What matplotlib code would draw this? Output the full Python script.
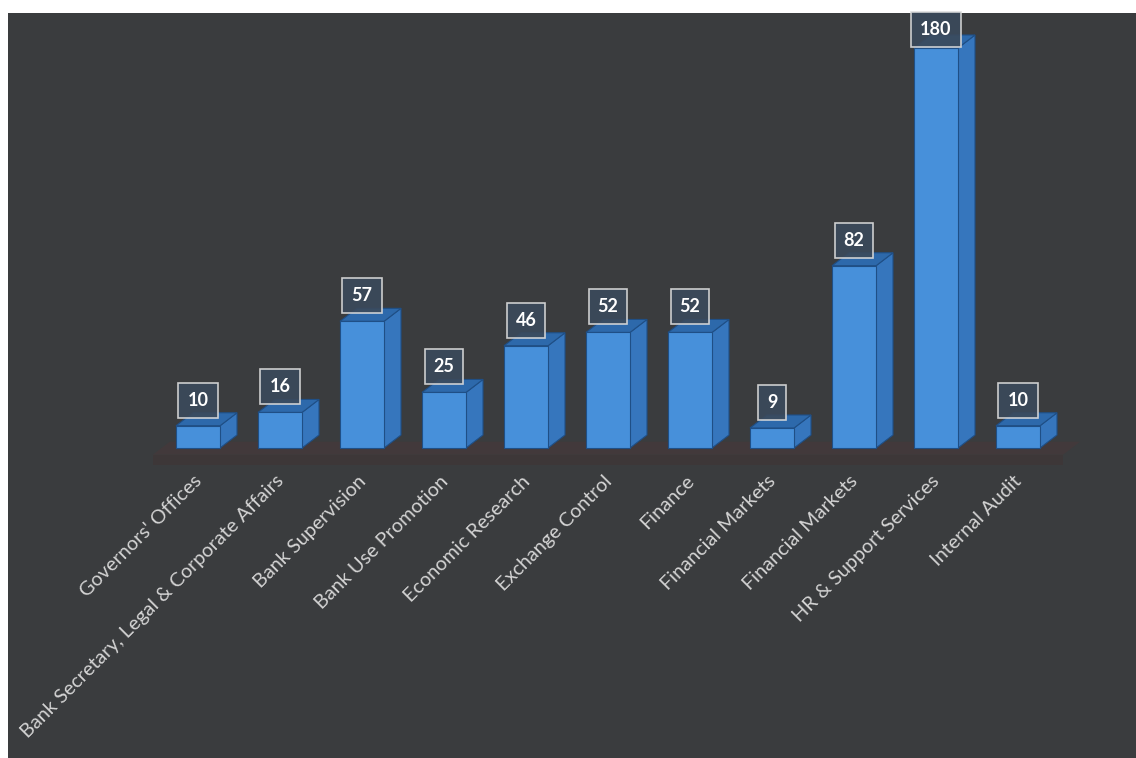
import matplotlib
matplotlib.use("Agg")
import matplotlib.pyplot as plt
from matplotlib.patches import Polygon

# Staff headcount by department
departments = [
    "Governors' Offices",
    "Bank Secretary, Legal & Corporate Affairs",
    "Bank Supervision",
    "Bank Use Promotion",
    "Economic Research",
    "Exchange Control",
    "Finance",
    "Financial Markets",
    "Financial Markets",
    "HR & Support Services",
    "Internal Audit",
]
headcount = [10, 16, 57, 25, 46, 52, 52, 9, 82, 180, 10]

W_PX, H_PX = 1136, 758
BG = "#3a3c3e"
FRONT = "#4790da"
SIDE = "#3676bd"
TOP = "#2d69ab"
EDGE = "#1f4f86"

fig = plt.figure(figsize=(W_PX / 100, H_PX / 100), dpi=100, facecolor="white")

# dark panel, inset from the left and top edges
pl, pt = 8, 13
ax = fig.add_axes([pl / W_PX, 0, (W_PX - pl) / W_PX, (H_PX - pt) / H_PX])
ax.set_facecolor(BG)

# pixel geometry of the plot: category spacing and value scale
x0_px, step_px = 198, 82
base_px, px_per_unit = 448, 400 / 180
ax.set_xlim((pl - x0_px) / step_px, (W_PX - x0_px) / step_px)
ax.set_ylim(-(H_PX - base_px) / px_per_unit, (base_px - pt) / px_per_unit)
for s in ax.spines.values():
    s.set_visible(False)
ax.set_xticks([])
ax.set_yticks([])

n = len(headcount)
xs = list(range(n))
bw = 44 / step_px            # front face width
dx = 17 / step_px            # depth offset (x)
dy = 13 / px_per_unit        # depth offset (y)

# floor slab under the bars
fl, fr = -0.55, n - 1 + 0.55
floor_top = Polygon(
    [(fl, -3.0), (fr, -3.0), (fr + dx, dy - 3.0), (fl + dx, dy - 3.0)],
    closed=True, facecolor="#45393a", edgecolor="none", alpha=0.75, zorder=1)
ax.add_patch(floor_top)
floor_front = Polygon(
    [(fl, -3.0), (fr, -3.0), (fr, -7.5), (fl, -7.5)],
    closed=True, facecolor="#3f3536", edgecolor="none", alpha=0.7, zorder=1)
ax.add_patch(floor_front)

# bars: front faces through bar(), side and top faces from the same values
ax.bar(xs, headcount, width=bw, color=FRONT, edgecolor=EDGE, linewidth=0.8, zorder=4)
for x, v in zip(xs, headcount):
    r = x + bw / 2
    l = x - bw / 2
    side = Polygon([(r, 0), (r + dx, dy), (r + dx, v + dy), (r, v)],
                   closed=True, facecolor=SIDE, edgecolor=EDGE, linewidth=0.8, zorder=3)
    top = Polygon([(l, v), (r, v), (r + dx, v + dy), (l + dx, v + dy)],
                  closed=True, facecolor=TOP, edgecolor=EDGE, linewidth=0.8, zorder=3)
    ax.add_patch(side)
    ax.add_patch(top)

# value labels in outlined boxes above each bar
ymax = ax.get_ylim()[1]
box_h = 33 / px_per_unit
for x, v in zip(xs, headcount):
    y_bottom = v + 9 / px_per_unit
    y_center = y_bottom + box_h / 2
    y_center = min(y_center, ymax - box_h / 2)
    ax.text(x, y_center, f"{v}", ha="center", va="center", color="white",
            fontsize=13, fontweight="bold", family="Lato", zorder=6,
            bbox=dict(boxstyle="square,pad=0.5", facecolor="#3b4a5c",
                      edgecolor="#dcdcdc", linewidth=1.2, alpha=0.9))

# rotated category labels
for x, name in zip(xs, departments):
    ax.text(x - 0.06, -11, name, rotation=45, rotation_mode="anchor",
            ha="right", va="top", color="#d4d4d4", fontsize=14.3,
            family="Lato", zorder=5)

fig.savefig("out.png", dpi=100, facecolor=fig.get_facecolor())
